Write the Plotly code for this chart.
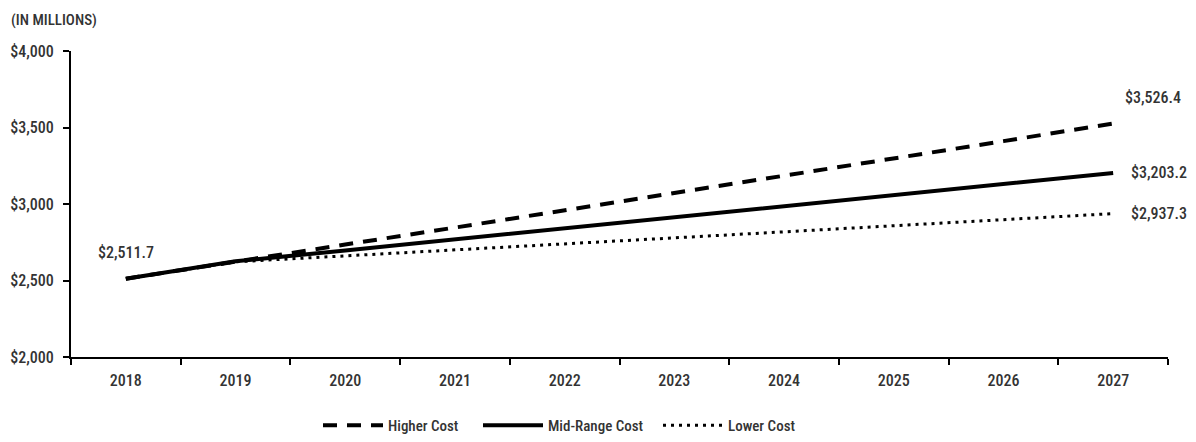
import plotly.graph_objects as go

years = ["2018", "2019", "2020", "2021", "2022", "2023", "2024", "2025", "2026", "2027"]
higher_cost = [2511.7, 2626, 2735, 2846, 2958, 3071, 3186, 3296, 3411, 3526.4]
mid_range_cost = [2511.7, 2626, 2696, 2768, 2840, 2913, 2985, 3058, 3130, 3203.2]
lower_cost = [2511.7, 2622, 2661, 2699, 2738, 2777, 2818, 2858, 2897, 2937.3]

FONT = "Roboto Condensed, Open Sans Condensed, sans-serif"
TEXT = "#333333"
WEIGHT = 500
W, H = 1196, 442

fig = go.Figure()
fig.add_trace(go.Scatter(x=years, y=higher_cost, mode="lines", name="Higher Cost",
                         legend="legend",
                         line=dict(color="black", width=4, dash="14px,10px")))
fig.add_trace(go.Scatter(x=years, y=mid_range_cost, mode="lines", name="Mid-Range Cost",
                         legend="legend2",
                         line=dict(color="black", width=4)))
fig.add_trace(go.Scatter(x=years, y=lower_cost, mode="lines", name="Lower Cost",
                         legend="legend3",
                         line=dict(color="black", width=3, dash="3px,5px")))

def money(v):
    return "${:,.1f}".format(v)

first, last = 0, len(years) - 1
fig.add_annotation(x=first, y=higher_cost[0], text=money(higher_cost[0]),
                   showarrow=False, yshift=26, xanchor="center", yanchor="middle")
fig.add_annotation(x=last, y=higher_cost[-1], text=money(higher_cost[-1]),
                   showarrow=False, xshift=10, yshift=26, xanchor="left", yanchor="middle")
fig.add_annotation(x=last, y=mid_range_cost[-1], text=money(mid_range_cost[-1]),
                   showarrow=False, xshift=16, xanchor="left", yanchor="middle")
fig.add_annotation(x=last, y=lower_cost[-1], text=money(lower_cost[-1]),
                   showarrow=False, xshift=16, xanchor="left", yanchor="middle")

fig.add_annotation(x=0, y=1, xref="paper", yref="paper", xanchor="left", yanchor="bottom",
                   text="(IN MILLIONS)", showarrow=False, xshift=-62, yshift=20,
                   font=dict(size=15))


def legend_box(left_px):
    return dict(orientation="h", x=left_px / W, xanchor="left", xref="container",
                y=0.0, yanchor="bottom", yref="container",
                itemwidth=60, font=dict(size=15), bgcolor="rgba(0,0,0,0)")


fig.update_layout(
    width=W, height=H,
    margin=dict(l=71, r=28, t=51, b=85, autoexpand=False),
    paper_bgcolor="white", plot_bgcolor="white",
    font=dict(family=FONT, size=16, color=TEXT, weight=WEIGHT),
    showlegend=True,
    legend=legend_box(318),
    legend2=legend_box(478),
    legend3=legend_box(658),
    xaxis=dict(type="category", range=[-0.5, 9.5], showline=True, linecolor="black", linewidth=2,
               ticks="outside", tickson="boundaries", ticklen=6, tickwidth=2,
               tickcolor="black", showgrid=False, zeroline=False, tickangle=0,
               ticklabelstandoff=8),
    yaxis=dict(range=[2000, 4000], dtick=500, tickprefix="$", tickformat=",",
               showline=True, linecolor="black", linewidth=2, ticks="outside",
               ticklen=6, tickwidth=2, tickcolor="black", showgrid=False,
               zeroline=False, ticklabelstandoff=6),
)

fig.write_html("out.html")
